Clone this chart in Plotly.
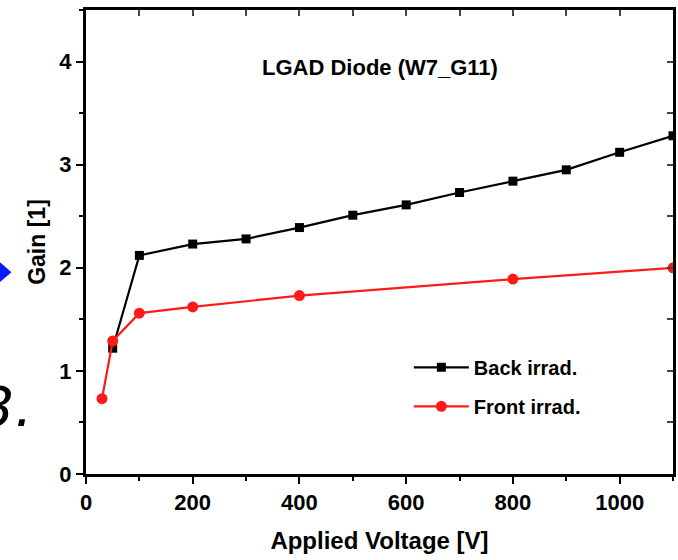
import plotly.graph_objects as go

back_v = [50, 100, 200, 300, 400, 500, 600, 700, 800, 900, 1000, 1100]
back_gain = [1.22, 2.12, 2.23, 2.28, 2.39, 2.51, 2.61, 2.73, 2.84, 2.95, 3.12, 3.28]
front_v = [30, 50, 100, 200, 400, 800, 1100]
front_gain = [0.73, 1.29, 1.56, 1.62, 1.73, 1.89, 2.00]

x_ticks = [0, 200, 400, 600, 800, 1000]
y_ticks = [0, 1, 2, 3, 4]

FONT = "Liberation Sans"

fig = go.Figure()
fig.add_trace(go.Scatter(x=back_v, y=back_gain, mode="lines+markers", name="<b>Back irrad.</b>",
                         line=dict(color="black", width=2.2), legendgroup="a",
                         marker=dict(symbol="square", size=9, color="black")))
fig.add_trace(go.Scatter(x=front_v, y=front_gain, mode="lines+markers", name="<b>Front irrad.</b>",
                         line=dict(color="#ff1a1a", width=2.2), legendgroup="b",
                         marker=dict(symbol="circle", size=11, color="#ff1a1a")))

axis_common = dict(showline=True, linecolor="black", linewidth=3, showgrid=False, zeroline=False,
                   ticks="outside", ticklen=7, tickwidth=2, tickcolor="black",
                   tickfont=dict(family=FONT, size=22, color="black"))
fig.update_layout(
    width=678, height=560,
    margin=dict(l=86, r=5, t=10, b=86),
    paper_bgcolor="white", plot_bgcolor="white",
    xaxis=dict(range=[0, 1100], tickvals=x_ticks,
               ticktext=["<b>%d</b>" % v for v in x_ticks],
               minor=dict(dtick=100, ticks="outside", ticklen=4, tickwidth=2, tickcolor="black"),
               title=dict(text="<b>Applied Voltage [V]</b>", font=dict(family=FONT, size=24, color="black"), standoff=18),
               **axis_common),
    yaxis=dict(range=[0, 4.5], tickvals=y_ticks,
               ticktext=["<b>%d</b>" % v for v in y_ticks],
               minor=dict(dtick=0.5, ticks="outside", ticklen=4, tickwidth=2, tickcolor="black"),
               title=dict(text="<b>Gain [1]</b>", font=dict(family=FONT, size=23, color="black"), standoff=8),
               **axis_common),
    xaxis2=dict(overlaying="x", side="top", range=[0, 1100], showline=True, linecolor="black", linewidth=3,
                showgrid=False, zeroline=False, ticks="inside", ticklen=6, tickwidth=2, dtick=100,
                showticklabels=False),
    yaxis2=dict(overlaying="y", side="right", range=[0, 4.5], showline=True, linecolor="black", linewidth=3,
                showgrid=False, zeroline=False, ticks="inside", ticklen=6, tickwidth=2, dtick=0.5,
                showticklabels=False),
    legend=dict(x=0.55, y=0.272, xanchor="left", yanchor="top", bgcolor="rgba(0,0,0,0)",
                font=dict(family=FONT, size=20, color="black"), tracegroupgap=10, itemwidth=55),
    showlegend=True,
)
# invisible trace to activate the mirrored frame axes
fig.add_trace(go.Scatter(x=[None], y=[None], xaxis="x2", yaxis="y2", showlegend=False, hoverinfo="skip"))

fig.add_annotation(text="<b>LGAD Diode (W7_G11)</b>", xref="paper", yref="paper", x=0.50, y=0.877,
                   xanchor="center", yanchor="middle",
                   showarrow=False, font=dict(family=FONT, size=22, color="black"))
# artifacts at left edge of the reference screenshot
fig.add_annotation(text="<i>3.</i>", xref="paper", yref="paper", x=-0.088, y=0.146,
                   xanchor="right", yanchor="middle",
                   showarrow=False, font=dict(family="DejaVu Sans", size=56, color="black"))
fig.add_shape(type="path", xref="paper", yref="paper",
              path="M -0.147 0.457 L -0.127 0.435 L -0.147 0.413 Z",
              fillcolor="#0a1aff", line=dict(width=0))

fig.write_html("out.html")
